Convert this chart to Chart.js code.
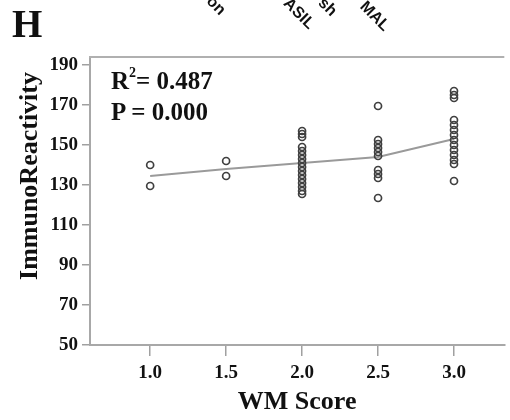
<!DOCTYPE html>
<html><head><meta charset="utf-8">
<script src="https://cdn.jsdelivr.net/npm/chart.js@4"></script>
<style>
html,body{margin:0;padding:0;background:#fff;}
#wrap{position:relative;width:510px;height:420px;overflow:hidden;font-family:"Liberation Serif","Times New Roman",serif;font-weight:bold;color:#111;}
#c{position:absolute;left:0;top:0;}
.lbl{position:absolute;white-space:nowrap;line-height:1;}
.anchor{position:absolute;width:0;height:0;}
.frag{position:absolute;right:0;bottom:0;white-space:nowrap;font-family:"Liberation Sans",Arial,sans-serif;font-size:16px;line-height:1;transform-origin:100% 100%;transform:rotate(45deg);}
sup{font-size:14px;vertical-align:top;position:relative;top:-2px;}
</style></head>
<body>
<div id="wrap">
<canvas id="c" width="510" height="420"></canvas>
<div class="lbl" style="left:12px;top:4px;font-size:39px;">H</div>
<div class="anchor" style="left:218px;top:18px;"><span class="frag">on</span></div>
<div class="anchor" style="left:306px;top:32px;"><span class="frag">ASIL</span></div>
<div class="anchor" style="left:329px;top:19px;"><span class="frag">sh</span></div>
<div class="anchor" style="left:382px;top:34px;"><span class="frag">MAL</span></div>
<div class="lbl" style="left:111px;top:68px;font-size:25px;">R<sup>2</sup>= 0.487</div>
<div class="lbl" style="left:111px;top:99px;font-size:25px;">P = 0.000</div>
</div>
<script>
// ---- data ----
const wmScores = [1.0, 1.5, 2.0, 2.5, 3.0];
const reactivityAt1_0 = [140, 129.5];
const reactivityAt1_5 = [142, 134.5];
const reactivityAt2_0 = [157, 155.5, 154, 149, 147, 145, 143, 141, 139, 137, 135, 133, 131, 129, 127, 125.5];
const reactivityAt2_5 = [169.5, 152.5, 150.5, 148.5, 146.5, 144.5, 137.5, 135.5, 133.5, 123.5];
const reactivityAt3_0 = [177, 175, 173.5, 162.5, 160, 157.5, 155, 152.5, 150, 147.5, 145, 142.5, 140.5, 132];
const fitLine = [134.5, 138, 141, 144, 153];
const xTickValues = [1.0, 1.5, 2.0, 2.5, 3.0];
const yTickValues = [50, 70, 90, 110, 130, 150, 170, 190];
const xTitle = "WM Score";
const yTitle = "ImmunoReactivity";

const groups = [reactivityAt1_0, reactivityAt1_5, reactivityAt2_0, reactivityAt2_5, reactivityAt3_0];
const scatterPts = [];
groups.forEach((vals, i) => vals.forEach(v => scatterPts.push({x: wmScores[i], y: v})));
const linePts = wmScores.map((x, i) => ({x: x, y: fitLine[i]}));

const FONT = '"Liberation Serif", "Times New Roman", serif';

const frameTop = {
  id: 'frameTop',
  afterDraw(chart) {
    const {ctx, chartArea} = chart;
    ctx.save();
    ctx.strokeStyle = '#b0b0b0';
    ctx.lineWidth = 2;
    ctx.beginPath();
    ctx.moveTo(chartArea.left - 1, chartArea.top);
    ctx.lineTo(chartArea.right, chartArea.top);
    ctx.stroke();
    // y axis title
    ctx.fillStyle = '#111';
    ctx.font = 'bold 26px ' + FONT;
    ctx.translate(37, 176);
    ctx.rotate(-Math.PI / 2);
    ctx.textAlign = 'center';
    ctx.textBaseline = 'alphabetic';
    ctx.fillText(yTitle, 0, 0);
    ctx.restore();
  }
};

new Chart(document.getElementById('c'), {
  type: 'scatter',
  data: {
    datasets: [
      {
        type: 'line',
        data: linePts,
        borderColor: '#9a9a9a',
        borderWidth: 2,
        pointRadius: 0,
        fill: false,
        tension: 0,
        order: 2
      },
      {
        type: 'scatter',
        data: scatterPts,
        pointStyle: 'circle',
        pointRadius: 3.5,
        borderWidth: 1.7,
        borderColor: '#404040',
        backgroundColor: 'rgba(255,255,255,0)',
        order: 1
      }
    ]
  },
  options: {
    responsive: false,
    devicePixelRatio: 1,
    animation: false,
    layout: {padding: {top: 57, right: 0, left: 0, bottom: 0}},
    plugins: {legend: {display: false}, tooltip: {enabled: false}},
    scales: {
      x: {
        type: 'linear',
        min: 0.604,
        max: 3.331,
        afterBuildTicks: s => { s.ticks = xTickValues.map(v => ({value: v})); },
        afterFit: s => { s.height = 75; },
        ticks: {
          callback: v => Number(v).toFixed(1),
          font: {family: FONT, size: 19, weight: 'bold'},
          color: '#111',
          padding: 6,
          maxRotation: 0
        },
        grid: {display: true, drawOnChartArea: false, drawTicks: true, tickLength: 11, color: '#a0a0a0', lineWidth: 1.5},
        border: {display: true, color: '#a8a8a8', width: 2},
        title: {display: true, text: xTitle, font: {family: FONT, size: 26, weight: 'bold'}, color: '#111', padding: {top: 0, bottom: 2}}
      },
      y: {
        type: 'linear',
        min: 50,
        max: 194,
        afterBuildTicks: s => { s.ticks = yTickValues.map(v => ({value: v})); },
        afterFit: s => { s.width = 90; },
        ticks: {
          font: {family: FONT, size: 19, weight: 'bold'},
          color: '#111',
          padding: 4
        },
        grid: {display: true, drawOnChartArea: false, drawTicks: true, tickLength: 8, color: '#a0a0a0', lineWidth: 1.5},
        border: {display: true, color: '#a8a8a8', width: 2},
        title: {display: false}
      }
    }
  },
  plugins: [frameTop]
});
</script>
</body></html>
